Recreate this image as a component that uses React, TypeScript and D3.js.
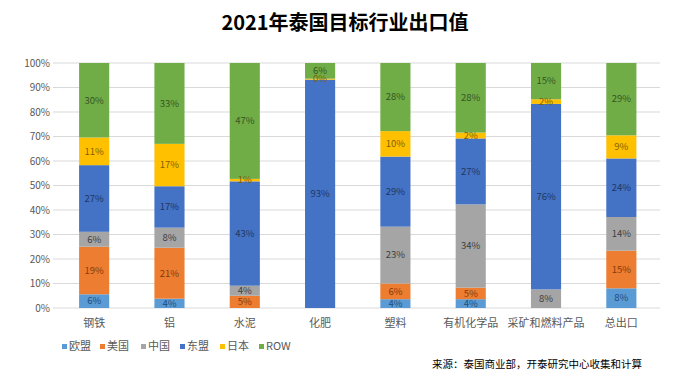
import React from "react";
import * as d3 from "d3";

const categories = ["钢铁", "铝", "水泥", "化肥", "塑料", "有机化学品", "采矿和燃料产品", "总出口"];
const seriesNames = ["欧盟", "美国", "中国", "东盟", "日本", "ROW"];
const euValues = [5.6, 3.8, 0, 0, 3.6, 3.6, 0, 8.0];
const usValues = [19.4, 20.8, 5.0, 0, 6.4, 4.7, 0, 15.3];
const cnValues = [6.1, 8.2, 4.1, 0, 23.2, 34.0, 7.6, 13.7];
const aseanValues = [27.2, 16.9, 42.6, 93.2, 28.6, 26.9, 75.7, 23.8];
const jpValues = [11.3, 17.3, 1.0, 0.4, 10.4, 2.4, 1.9, 9.4];
const rowValues = [30.4, 33.0, 47.3, 6.4, 27.8, 28.4, 14.8, 29.4];
const yTicks = [0, 0.1, 0.2, 0.3, 0.4, 0.5, 0.6, 0.7, 0.8, 0.9, 1.0];
const title = "2021年泰国目标行业出口值";
const source = "来源：泰国商业部，开泰研究中心收集和计算";

const colors = ["#5B9BD5", "#ED7D31", "#A5A5A5", "#4472C4", "#FFC000", "#70AD47"];
const labelColors = ["#1F4E79", "#843C0C", "#404040", "#1F3864", "#7F6000", "#375623"];

const W = 691;
const H = 383;
const FONT = "'Noto Sans CJK SC', 'Noto Sans', sans-serif";

export default function App() {
  const allSeries = [euValues, usValues, cnValues, aseanValues, jpValues, rowValues];
  const rows = categories.map((c, i) => {
    const r: any = { cat: c };
    seriesNames.forEach((s, j) => (r[s] = allSeries[j][i]));
    return r;
  });
  const stacked = d3.stack<any>().keys(seriesNames).offset(d3.stackOffsetExpand)(rows);

  const x = d3.scaleBand().domain(categories).range([56.5, 659]).paddingInner(0.6).paddingOuter(0.3);
  const y = d3.scaleLinear().domain([0, 1]).range([308, 63]);
  const pct = d3.format(".0%");

  return (
    <svg width={W} height={H} style={{ position: "absolute", left: 0, top: 0, background: "#fff" }} fontFamily={FONT}>
      <rect x={0} y={0} width={W} height={H} fill="#fff" />
      <text x={345} y={30} textAnchor="middle" fontSize={20} fontWeight="bold" fill="#000">{title}</text>
      {yTicks.map((t) => (
        <g key={t}>
          <line x1={53} x2={660} y1={y(t)} y2={y(t)} stroke="#D9D9D9" strokeWidth={1} />
          <text x={50} y={y(t)} dy="0.35em" textAnchor="end" fontSize={10} fill="#595959">{pct(t)}</text>
        </g>
      ))}
      {stacked.map((layer, j) => (
        <g key={layer.key}>
          {layer.map((d, i) => {
            const v = allSeries[j][i];
            if (v <= 0) return null;
            const bx = x(categories[i])!;
            const y0 = y(d[0]);
            const y1 = y(d[1]);
            return (
              <rect key={i} x={bx} y={y1} width={x.bandwidth()} height={Math.max(0, y0 - y1)} fill={colors[j]} />
            );
          })}
        </g>
      ))}
      {stacked.map((layer, j) => (
        <g key={"l" + layer.key}>
          {layer.map((d, i) => {
            const v = allSeries[j][i];
            if (v <= 0) return null;
            const cx = x(categories[i])! + x.bandwidth() / 2;
            const cy = (y(d[0]) + y(d[1])) / 2;
            return (
              <text key={i} x={cx} y={cy} dy="0.35em" textAnchor="middle" fontSize={9.5} fill={labelColors[j]}>
                {Math.round(v) + "%"}
              </text>
            );
          })}
        </g>
      ))}
      {categories.map((c) => (
        <text key={c} x={x(c)! + x.bandwidth() / 2} y={323} dy="0.35em" textAnchor="middle" fontSize={11} fill="#595959">{c}</text>
      ))}
      {seriesNames.map((s, j) => {
        const lx = [65, 103, 144, 183, 223, 262][j];
        return (
          <g key={s}>
            <rect x={lx - 3} y={344} width={5} height={5} fill={colors[j]} />
            <text x={lx + 4} y={346.5} dy="0.35em" fontSize={11} fill="#595959">{s}</text>
          </g>
        );
      })}
      <text x={642} y={364} dy="0.35em" textAnchor="end" fontSize={10.5} fill="#000">{source}</text>
    </svg>
  );
}
